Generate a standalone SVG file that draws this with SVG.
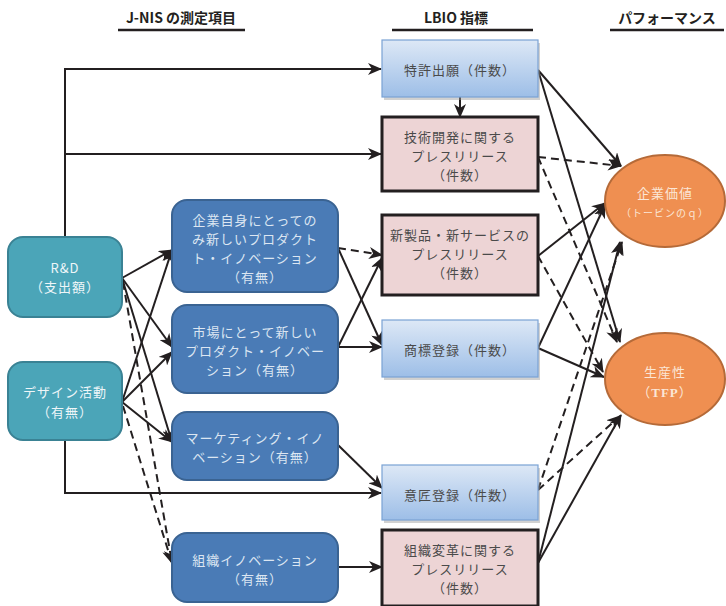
<svg xmlns="http://www.w3.org/2000/svg" width="726" height="606" viewBox="0 0 726 606">
<defs>
<marker id="ah" markerUnits="userSpaceOnUse" markerWidth="14" markerHeight="12" refX="13" refY="6" orient="auto" viewBox="0 0 14 12">
<path d="M0,0 L14,6 L0,12 L4,6 z" fill="#231F20"/>
</marker>
<linearGradient id="bluegrad" x1="0" y1="0" x2="0" y2="1">
<stop offset="0" stop-color="#DDE8F6"/>
<stop offset="1" stop-color="#9DBEE7"/>
</linearGradient>
</defs>
<style>
text{font-family:"Noto Sans CJK JP","Noto Sans",sans-serif;font-size:13px;letter-spacing:1px;text-anchor:middle}
.hdr{font-weight:bold;font-size:14px;letter-spacing:0;fill:#231F20}
.hl{stroke:#231F20;stroke-width:2.5}
.teal{fill:#4BA5B8;stroke:#3A8294;stroke-width:2}
.tealt{fill:#EEF6F8}
.mid{fill:#4A7BB6;stroke:#3A6392;stroke-width:2}
.midt{fill:#DCE6F2}
.lb{fill:url(#bluegrad);stroke:#7AA2D4;stroke-width:1.2}
.sh{fill:#9A9A9A;opacity:0.45}
.pink{fill:#EDD4D5;stroke:#231F20;stroke-width:3}
.rt{fill:#4A4A4A}
.ell{fill:#EF8F51;stroke:#B56A38;stroke-width:2}
.ellt{fill:#FBE6D6}
.c{fill:none;stroke:#231F20;stroke-width:2;marker-end:url(#ah)}
.d{stroke-dasharray:8,5}
</style>

<g id="headers">
<text class="hdr" x="181" y="23">J-NIS の測定項目</text>
<line class="hl" x1="118" y1="30" x2="245" y2="30"/>
<text class="hdr" x="456" y="23">LBIO 指標</text>
<line class="hl" x1="392" y1="30" x2="533" y2="30"/>
<text class="hdr" x="667" y="23">パフォーマンス</text>
<line class="hl" x1="610" y1="30" x2="724" y2="30"/>
</g>

<g id="connectors">
<polyline class="c" points="65,237 65,69 381,69"/>
<line class="c" x1="65" y1="154" x2="381" y2="154"/>
<polyline class="c" points="65,440 65,493 381,493"/>
<line class="c" x1="460" y1="97" x2="460" y2="117"/>
<line class="c" x1="122" y1="278" x2="172" y2="250"/>
<line class="c" x1="122" y1="278" x2="172" y2="347"/>
<line class="c" x1="122" y1="278" x2="172" y2="442"/>
<line class="c" x1="122" y1="402" x2="172" y2="250"/>
<line class="c" x1="122" y1="402" x2="172" y2="352"/>
<line class="c" x1="122" y1="402" x2="172" y2="442"/>
<line class="c d" x1="123" y1="282" x2="172" y2="563"/>
<line class="c d" x1="123" y1="406" x2="172" y2="563"/>
<line class="c d" x1="338" y1="248" x2="382" y2="255"/>
<line class="c" x1="338" y1="248" x2="382" y2="345"/>
<line class="c" x1="338" y1="347" x2="382" y2="258"/>
<line class="c" x1="338" y1="347" x2="382" y2="347"/>
<line class="c" x1="338" y1="445" x2="382" y2="488"/>
<line class="c" x1="338" y1="567" x2="382" y2="567"/>
<line class="c" x1="538" y1="70" x2="621" y2="166"/>
<line class="c" x1="538" y1="70" x2="620" y2="342"/>
<line class="c d" x1="538" y1="157" x2="621" y2="166"/>
<line class="c d" x1="538" y1="157" x2="617" y2="342"/>
<line class="c" x1="538" y1="256" x2="605" y2="203"/>
<line class="c d" x1="538" y1="256" x2="603" y2="372"/>
<line class="c" x1="538" y1="348" x2="605" y2="205"/>
<line class="c" x1="538" y1="348" x2="604" y2="377"/>
<line class="c d" x1="538" y1="490" x2="622" y2="242"/>
<line class="c d" x1="538" y1="490" x2="620" y2="416"/>
<line class="c" x1="538" y1="563" x2="620" y2="242"/>
<line class="c" x1="538" y1="563" x2="621" y2="415"/>
</g>

<g id="rd">
<rect class="teal" x="8" y="237" width="114" height="80" rx="15"/>
<text class="tealt" x="65" y="273">R&amp;D</text>
<text class="tealt" x="65" y="292">（支出額）</text>
</g>
<g id="design">
<rect class="teal" x="8" y="362" width="114" height="78" rx="15"/>
<text class="tealt" x="65" y="397">デザイン活動</text>
<text class="tealt" x="65" y="417">（有無）</text>
</g>

<g id="prod-firm">
<rect class="mid" x="172" y="200" width="166" height="92" rx="15"/>
<text class="midt" x="255" y="225">企業自身にとっての</text>
<text class="midt" x="255" y="244">み新しいプロダクト</text>
<text class="midt" x="255" y="263">ト・イノベーション</text>
<text class="midt" x="255" y="282">（有無）</text>
</g>
<g id="prod-market">
<rect class="mid" x="172" y="305" width="166" height="88" rx="15"/>
<text class="midt" x="255" y="337">市場にとって新しい</text>
<text class="midt" x="255" y="356">プロダクト・イノベー</text>
<text class="midt" x="255" y="375">ション（有無）</text>
</g>
<g id="marketing">
<rect class="mid" x="172" y="412" width="166" height="68" rx="15"/>
<text class="midt" x="255" y="443">マーケティング・イノ</text>
<text class="midt" x="255" y="462">ベーション（有無）</text>
</g>
<g id="org">
<rect class="mid" x="172" y="533" width="166" height="69" rx="15"/>
<text class="midt" x="255" y="565">組織イノベーション</text>
<text class="midt" x="255" y="584">（有無）</text>
</g>

<g id="patent">
<rect class="sh" x="384" y="43" width="156" height="57"/>
<rect class="lb" x="382" y="40" width="156" height="57"/>
<text class="rt" x="460" y="75">特許出願（件数）</text>
</g>
<g id="pr-tech">
<rect class="pink" x="382" y="117" width="156" height="74"/>
<text class="rt" x="460" y="142">技術開発に関する</text>
<text class="rt" x="460" y="161">プレスリリース</text>
<text class="rt" x="460" y="180">（件数）</text>
</g>
<g id="pr-product">
<rect class="pink" x="382" y="215" width="156" height="80"/>
<text class="rt" x="460" y="240">新製品・新サービスの</text>
<text class="rt" x="460" y="259">プレスリリース</text>
<text class="rt" x="460" y="278">（件数）</text>
</g>
<g id="trademark">
<rect class="sh" x="384" y="323" width="156" height="57"/>
<rect class="lb" x="382" y="320" width="156" height="57"/>
<text class="rt" x="460" y="355">商標登録（件数）</text>
</g>
<g id="design-reg">
<rect class="sh" x="384" y="468" width="156" height="55"/>
<rect class="lb" x="382" y="465" width="156" height="55"/>
<text class="rt" x="460" y="500">意匠登録（件数）</text>
</g>
<g id="pr-org">
<rect class="pink" x="382" y="530" width="156" height="76"/>
<text class="rt" x="460" y="555">組織変革に関する</text>
<text class="rt" x="460" y="574">プレスリリース</text>
<text class="rt" x="460" y="593">（件数）</text>
</g>

<g id="firm-value">
<ellipse class="ell" cx="665" cy="201" rx="60" ry="46"/>
<text class="ellt" x="665" y="198">企業価値</text>
<text class="ellt" x="665" y="217" style="font-size:10px;letter-spacing:1px">（トービンのｑ）</text>
</g>
<g id="productivity">
<ellipse class="ell" cx="665" cy="379" rx="60" ry="46"/>
<text class="ellt" x="665" y="377">生産性</text>
<text class="ellt" x="665" y="397">（<tspan style="font-family:'Liberation Serif',serif;font-weight:bold">TFP</tspan>）</text>
</g>
</svg>
